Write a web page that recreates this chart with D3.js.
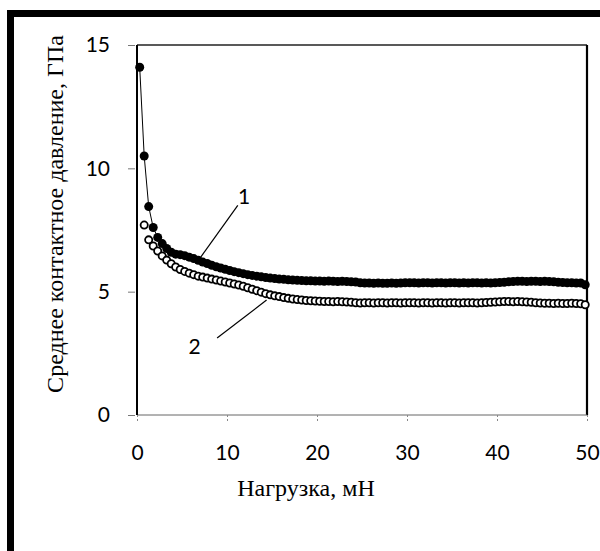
<!DOCTYPE html>
<html><head><meta charset="utf-8">
<script src="https://cdn.jsdelivr.net/npm/d3@7"></script>
<style>html,body{margin:0;padding:0;background:#fff;}svg{display:block;}</style>
</head><body>
<svg id="c" width="600" height="551"></svg>
<script>
// ---- data ----
const load = [0.3,0.8,1.3,1.8,2.3,2.8,3.3,3.8,4.3,4.8,5.3,5.8,6.3,6.8,7.3,7.8,8.3,8.8,9.3,9.8,
10.3,10.8,11.3,11.8,12.3,12.8,13.3,13.8,14.3,14.8,15.3,15.8,16.3,16.8,17.3,17.8,18.3,18.8,19.3,19.8,
20.3,20.8,21.3,21.8,22.3,22.8,23.3,23.8,24.3,24.8,25.3,25.8,26.3,26.8,27.3,27.8,28.3,28.8,29.3,29.8,
30.3,30.8,31.3,31.8,32.3,32.8,33.3,33.8,34.3,34.8,35.3,35.8,36.3,36.8,37.3,37.8,38.3,38.8,39.3,39.8,
40.3,40.8,41.3,41.8,42.3,42.8,43.3,43.8,44.3,44.8,45.3,45.8,46.3,46.8,47.3,47.8,48.3,48.8,49.3,49.8];
const pressure1 = [14.1,10.5,8.45,7.6,7.2,6.95,6.75,6.6,6.52,6.5,6.46,6.4,6.34,6.27,6.2,6.14,6.07,6.01,5.96,5.91,
5.86,5.81,5.77,5.73,5.69,5.66,5.63,5.6,5.57,5.55,5.53,5.51,5.5,5.48,5.47,5.46,5.45,5.44,5.44,5.43,
5.43,5.42,5.43,5.42,5.41,5.42,5.41,5.4,5.39,5.36,5.35,5.35,5.34,5.35,5.34,5.34,5.35,5.34,5.35,5.36,
5.36,5.36,5.35,5.36,5.36,5.35,5.36,5.36,5.35,5.36,5.36,5.35,5.36,5.35,5.36,5.36,5.35,5.36,5.35,5.36,
5.37,5.38,5.4,5.41,5.42,5.42,5.41,5.42,5.42,5.41,5.42,5.41,5.4,5.38,5.37,5.36,5.36,5.35,5.35,5.28];
const pressure2 = [null,7.7,7.1,6.85,6.65,6.45,6.28,6.13,6.0,5.9,5.82,5.75,5.69,5.63,5.59,5.55,5.51,5.47,5.43,5.39,
5.35,5.31,5.27,5.22,5.16,5.1,5.04,4.98,4.92,4.87,4.83,4.8,4.76,4.73,4.7,4.68,4.66,4.64,4.63,4.62,
4.61,4.6,4.6,4.59,4.6,4.59,4.58,4.57,4.55,4.54,4.55,4.55,4.54,4.55,4.55,4.54,4.55,4.55,4.54,4.55,
4.55,4.55,4.54,4.55,4.55,4.54,4.55,4.55,4.54,4.55,4.55,4.54,4.55,4.55,4.55,4.54,4.55,4.56,4.57,4.58,
4.59,4.6,4.6,4.59,4.6,4.59,4.58,4.57,4.55,4.54,4.53,4.53,4.52,4.53,4.52,4.52,4.53,4.52,4.51,4.47];
const xTicks = [0,10,20,30,40,50];
const yTicks = [0,5,10,15];
const xTitle = "Нагрузка, мН";
const yTitle = "Среднее контактное давление, ГПа";
// annotation callouts: label, text pos, line start, line end (data units)
const callouts = [
  {label:"1", tx:11.9, ty:8.84, x1:11.2, y1:8.5, x2:7.0, y2:6.36},
  {label:"2", tx:6.4, ty:2.76, x1:8.9, y1:3.12, x2:14.4, y2:4.66}
];

// ---- layout ----
const svg = d3.select("#c");
const L = 137, R = 587, T = 45, B = 415;
const x = d3.scaleLinear().domain([0,50]).range([L,R]);
const y = d3.scaleLinear().domain([0,15]).range([B,T]);

svg.append("rect").attr("width",600).attr("height",551).attr("fill","#fff");
// outer black frame (cropped on right/bottom)
svg.append("rect").attr("x",10.5).attr("y",13.5).attr("width",800).attr("height",800)
  .attr("fill","none").attr("stroke","#000").attr("stroke-width",7);

// plot box
svg.append("line").attr("x1",L).attr("x2",R).attr("y1",T).attr("y2",T).attr("stroke","#222").attr("stroke-width",1.6);
svg.append("line").attr("x1",R).attr("x2",R).attr("y1",T).attr("y2",B).attr("stroke","#000").attr("stroke-width",2.2);
svg.append("line").attr("x1",L).attr("x2",R).attr("y1",B).attr("y2",B).attr("stroke","#666").attr("stroke-width",1);

// axes
const xAxis = d3.axisBottom(x).tickValues(xTicks).tickSize(8).tickPadding(22).tickFormat(d3.format("d"));
const gx = svg.append("g").attr("transform",`translate(0,${B})`).call(xAxis);
gx.select(".domain").remove();
gx.selectAll(".tick line").attr("stroke","#888").attr("stroke-dasharray","2,2");
gx.selectAll("text").attr("font-family","Lato, 'Open Sans', sans-serif").attr("font-size",21).attr("fill","#000");

const yAxis = d3.axisLeft(y).tickValues(yTicks).tickSize(7).tickPadding(18).tickFormat(d3.format("d"));
const gy = svg.append("g").attr("transform",`translate(${L-2},0)`).call(yAxis);
gy.select(".domain").remove();
gy.selectAll(".tick line").attr("stroke","#777");
gy.selectAll("text").attr("font-family","Lato, 'Open Sans', sans-serif").attr("font-size",21).attr("fill","#000");
svg.append("line").attr("x1",L).attr("x2",L).attr("y1",T).attr("y2",B).attr("stroke","#000").attr("stroke-width",2);

// titles
svg.append("text").attr("x",306).attr("y",496).attr("text-anchor","middle")
  .attr("font-family","'Liberation Serif','Times New Roman',serif").attr("font-size",24).text(xTitle);
svg.append("text").attr("transform","translate(63,214) rotate(-90)").attr("text-anchor","middle")
  .attr("font-family","'Liberation Serif','Times New Roman',serif").attr("font-size",24).text(yTitle);

// series 2 (open circles)
const d2 = load.map((v,i)=>({x:v,y:pressure2[i]})).filter(d=>d.y!=null);
svg.append("g").selectAll("circle").data(d2).join("circle")
  .attr("cx",d=>x(d.x)).attr("cy",d=>y(d.y)).attr("r",3.6)
  .attr("fill","#fff").attr("stroke","#000").attr("stroke-width",1.8);

// series 1 (filled circles with thin line)
const d1 = load.map((v,i)=>({x:v,y:pressure1[i]}));
svg.append("path").datum(d1).attr("fill","none").attr("stroke","#000").attr("stroke-width",1)
  .attr("d",d3.line().x(d=>x(d.x)).y(d=>y(d.y)));
svg.append("g").selectAll("circle").data(d1).join("circle")
  .attr("cx",d=>x(d.x)).attr("cy",d=>y(d.y)).attr("r",4.5)
  .attr("fill","#000");

// callouts
callouts.forEach(c=>{
  svg.append("line").attr("x1",x(c.x1)).attr("y1",y(c.y1)).attr("x2",x(c.x2)).attr("y2",y(c.y2))
    .attr("stroke","#000").attr("stroke-width",1.2);
  svg.append("text").attr("x",x(c.tx)).attr("y",y(c.ty)).attr("text-anchor","middle").attr("dy","0.35em")
    .attr("font-family","Lato, 'Open Sans', sans-serif").attr("font-size",21).text(c.label);
});
</script>
</body></html>
